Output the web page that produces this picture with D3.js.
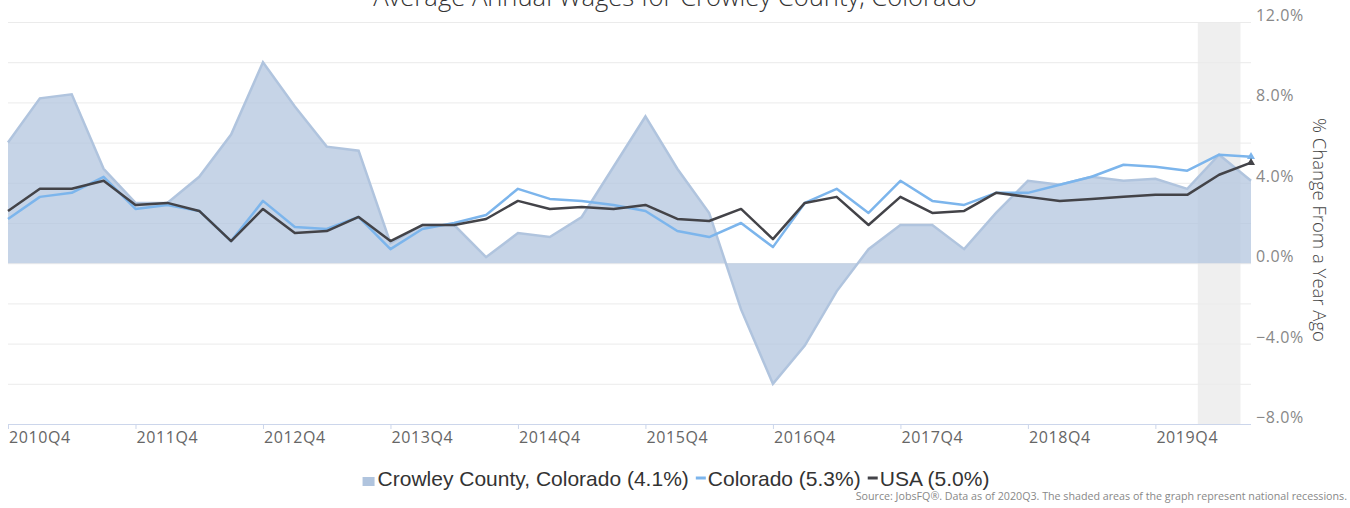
<!DOCTYPE html>
<html>
<head>
<meta charset="utf-8">
<script src="https://cdn.jsdelivr.net/npm/d3@7"></script>
<style>
  body { margin: 0; background: #fff; }
  svg { display: block; }
</style>
</head>
<body>
<svg id="chart"></svg>
<script>
// quarters 2010Q4 .. 2020Q3
var quarters = [
    "2010Q4","2011Q1","2011Q2","2011Q3","2011Q4","2012Q1","2012Q2","2012Q3",
    "2012Q4","2013Q1","2013Q2","2013Q3","2013Q4","2014Q1","2014Q2","2014Q3",
    "2014Q4","2015Q1","2015Q2","2015Q3","2015Q4","2016Q1","2016Q2","2016Q3",
    "2016Q4","2017Q1","2017Q2","2017Q3","2017Q4","2018Q1","2018Q2","2018Q3",
    "2018Q4","2019Q1","2019Q2","2019Q3","2019Q4","2020Q1","2020Q2","2020Q3"
];
var crowley = [
    6.0, 8.2, 8.4, 4.7, 3.0, 3.0, 4.3, 6.4,
    10.0, 7.8, 5.8, 5.6, 1.0, 1.9, 1.9, 0.3,
    1.5, 1.3, 2.3, 4.8, 7.3, 4.7, 2.5, -2.3,
    -6.0, -4.1, -1.4, 0.7, 1.9, 1.9, 0.7, 2.5,
    4.1, 3.9, 4.3, 4.1, 4.2, 3.7, 5.4, 4.1
];
var colorado = [
    2.2, 3.3, 3.5, 4.3, 2.7, 2.9, 2.6, 1.1,
    3.1, 1.8, 1.7, 2.3, 0.7, 1.7, 2.0, 2.4,
    3.7, 3.2, 3.1, 2.9, 2.6, 1.6, 1.3, 2.0,
    0.8, 3.0, 3.7, 2.5, 4.1, 3.1, 2.9, 3.5,
    3.5, 3.9, 4.3, 4.9, 4.8, 4.6, 5.4, 5.3
];
var usa = [
    2.6, 3.7, 3.7, 4.1, 2.9, 3.0, 2.6, 1.1,
    2.7, 1.5, 1.6, 2.3, 1.1, 1.9, 1.9, 2.2,
    3.1, 2.7, 2.8, 2.7, 2.9, 2.2, 2.1, 2.7,
    1.2, 3.0, 3.3, 1.9, 3.3, 2.5, 2.6, 3.5,
    3.3, 3.1, 3.2, 3.3, 3.4, 3.4, 4.4, 5.0
];
var tickLabels = ["2010Q4","2011Q4","2012Q4","2013Q4","2014Q4","2015Q4","2016Q4","2017Q4","2018Q4","2019Q4"];
var yTickValues = [-8, -4, 0, 4, 8, 12];
var yGridValues = [-8, -6, -4, -2, 0, 2, 4, 6, 8, 10, 12];
var recession = [37.33, 38.67]; // Feb 2020 - Apr 2020, in quarter positions
var legendNames = ["Crowley County, Colorado (4.1%)", "Colorado (5.3%)", "USA (5.0%)"];

const width = 1350;
const height = 508;
const plotLeft = 8, plotRight = 1251, plotTop = 22, plotBottom = 424;

var svg = d3.select("#chart").attr("width", width).attr("height", height);

var x = d3.scaleLinear().domain([0, quarters.length - 1]).range([plotLeft, plotRight]);
var y = d3.scaleLinear().domain([-8, 12]).range([plotBottom, plotTop]);

// recession band
svg.append("rect")
    .attr("x", x(recession[0]))
    .attr("y", plotTop)
    .attr("width", x(recession[1]) - x(recession[0]))
    .attr("height", plotBottom - plotTop)
    .attr("fill", "#efefef");

// grid lines
svg.selectAll(".grid-line")
    .data(yGridValues)
    .enter().append("line")
    .attr("class", "grid-line")
    .attr("x1", plotLeft)
    .attr("x2", plotRight)
    .attr("y1", d => y(d) + 0.5)
    .attr("y2", d => y(d) + 0.5)
    .attr("stroke", "#ebebeb")
    .attr("stroke-width", 1);

// Crowley area
var area = d3.area()
    .x((d, i) => x(i))
    .y0(y(0))
    .y1(d => y(d));
svg.append("path")
    .datum(crowley)
    .attr("d", area)
    .attr("fill", "#b0c4de")
    .attr("fill-opacity", 0.72);
svg.append("path")
    .datum(crowley)
    .attr("d", d3.line().x((d, i) => x(i)).y(d => y(d)))
    .attr("fill", "none")
    .attr("stroke", "#b0c4de")
    .attr("stroke-width", 2.5);

// lines
var line = d3.line().x((d, i) => x(i)).y(d => y(d));
var series = [
    {values: colorado, color: "#7cb5ec"},
    {values: usa, color: "#434348"}
];
series.forEach(function(s) {
    svg.append("path")
        .datum(s.values)
        .attr("d", line)
        .attr("fill", "none")
        .attr("stroke", s.color)
        .attr("stroke-width", 2.5)
        .attr("stroke-linejoin", "round");
    var last = s.values.length - 1;
    svg.append("path")
        .attr("d", d3.symbol().type(d3.symbolTriangle).size(28)())
        .attr("transform", `translate(${x(last)},${y(s.values[last])})`)
        .attr("fill", s.color);
});

// x axis
svg.append("line")
    .attr("x1", plotLeft).attr("x2", plotRight)
    .attr("y1", plotBottom + 0.5).attr("y2", plotBottom + 0.5)
    .attr("stroke", "#ccd6eb");
tickLabels.forEach(function(t) {
    var i = quarters.indexOf(t);
    svg.append("line")
        .attr("x1", x(i) + 0.5).attr("x2", x(i) + 0.5)
        .attr("y1", plotBottom).attr("y2", plotBottom + 5)
        .attr("stroke", "#ccd6eb");
    svg.append("text")
        .attr("x", x(i) + 1)
        .attr("y", plotBottom + 19)
        .attr("font-family", "'Open Sans', sans-serif")
        .attr("font-size", 16)
        .attr("letter-spacing", 0.6)
        .attr("fill", "#666")
        .text(t);
});

// y axis labels (right side)
svg.selectAll(".y-label")
    .data(yTickValues)
    .enter().append("text")
    .attr("class", "y-label")
    .attr("x", plotRight + 5)
    .attr("y", d => y(d) - 1)
    .attr("font-family", "'Open Sans', sans-serif")
    .attr("font-size", 16)
    .attr("letter-spacing", 0.6)
    .attr("fill", "#888")
    .text(d => d3.format(".1f")(d) + "%");

svg.append("text")
    .attr("transform", "translate(1313,230) rotate(90)")
    .attr("text-anchor", "middle")
    .attr("font-family", "'Open Sans', sans-serif")
    .attr("font-size", 18.5)
    .attr("font-weight", 300)
    .attr("fill", "#444")
    .text("% Change From a Year Ago");

// title
svg.append("text")
    .attr("x", width / 2)
    .attr("y", 6)
    .attr("text-anchor", "middle")
    .attr("font-family", "'Open Sans', sans-serif")
    .attr("font-size", 25.6)
    .attr("font-weight", 300)
    .attr("fill", "#333")
    .text("Average Annual Wages for Crowley County, Colorado");

// legend
var legend = svg.append("g");
var lx = 0;
var legendColors = ["#b0c4de", "#7cb5ec", "#434348"];
legendNames.forEach(function(name, i) {
    var g = legend.append("g").attr("transform", `translate(${lx},0)`);
    if (i === 0) {
        g.append("rect").attr("x", 0).attr("y", -9).attr("width", 12).attr("height", 9).attr("fill", legendColors[i]);
    } else {
        g.append("line").attr("x1", 0).attr("x2", 10).attr("y1", -8).attr("y2", -8)
            .attr("stroke", legendColors[i]).attr("stroke-width", 3);
    }
    var t = g.append("text")
        .attr("x", i === 0 ? 15 : 12)
        .attr("y", 0)
        .attr("font-family", "'Liberation Sans', Arial, sans-serif")
        .attr("font-size", 21)
        .attr("fill", "#333")
        .text(name);
    lx += (i === 0 ? 15 : 12) + t.node().getComputedTextLength() + 7;
});
var legendWidth = lx - 7;
legend.attr("transform", `translate(${(width - legendWidth) / 2 + 1},486)`);

// source note
svg.append("text")
    .attr("x", 1347)
    .attr("y", 500)
    .attr("text-anchor", "end")
    .attr("font-family", "'Open Sans', sans-serif")
    .attr("font-size", 10.7)
    .attr("fill", "#888")
    .text("Source: JobsFQ®. Data as of 2020Q3. The shaded areas of the graph represent national recessions.");
</script>
</body>
</html>
